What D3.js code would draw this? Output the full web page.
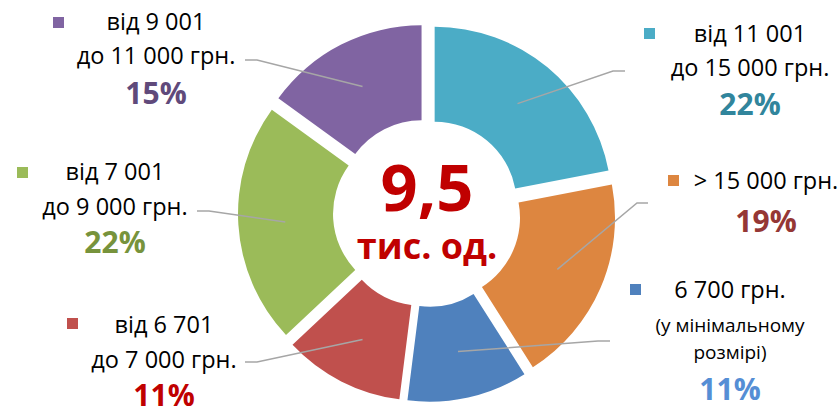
<!DOCTYPE html>
<html>
<head>
<meta charset="utf-8">
<script src="https://cdn.jsdelivr.net/npm/d3@7"></script>
<style>
  body { margin: 0; background: #fff; }
  svg { display: block; }
  text { font-family: "Open Sans", "DejaVu Sans", sans-serif; }
</style>
</head>
<body>
<svg id="svg"></svg>
<script>
// shares of the doughnut, clockwise from 12 o'clock
var categories = ["від 11 001 до 15 000 грн.", "> 15 000 грн.", "6 700 грн. (у мінімальному розмірі)",
                  "від 6 701 до 7 000 грн.", "від 7 001 до 9 000 грн.", "від 9 001 до 11 000 грн."];
var labelLines = [
    ["від 11 001", "до 15 000 грн."],
    ["> 15 000 грн."],
    ["6 700 грн.", "(у мінімальному", "розмірі)"],
    ["від 6 701", "до 7 000 грн."],
    ["від 7 001", "до 9 000 грн."],
    ["від 9 001", "до 11 000 грн."]
];
var shares = [22, 19, 11, 11, 22, 15];
var sliceColors = ["#4BACC6", "#DD8640", "#4F81BD", "#C0504D", "#9BBB59", "#8064A2"];
var pctColors = ["#31859C", "#953735", "#558ED5", "#C00000", "#77933C", "#604A7B"];
var totalValue = "9,5";
var totalUnit = "тис. од.";

var width = 840, height = 407;
var cx = 427, cy = 213;
var rIn = 82, rOut = 177, explode = 12;

// label blocks: centre x, first baseline, square x/y, percent baseline, leader elbow/end
var labelLayout = [
    {x: 750, y: 42,  sq: [644, 28],  pctY: 115, lineGap: 34, elbow: [613, 71],  end: [625, 71]},
    {x: 766, y: 189, sq: [668, 175], pctY: 232, lineGap: 34, elbow: [637, 203], end: [648, 203]},
    {x: 730, y: 298, sq: [630, 284], pctY: 400, lineGap: [34, 27], elbow: [598, 341], end: [610, 341]},
    {x: 164, y: 333, sq: [67, 318],  pctY: 406, lineGap: 35, elbow: [257, 362], end: [245, 362]},
    {x: 115, y: 180, sq: [17, 167],  pctY: 253, lineGap: 35, elbow: [209, 211], end: [197, 211]},
    {x: 156, y: 30,  sq: [53, 17],   pctY: 104, lineGap: 34, elbow: [257, 60],  end: [245, 60]}
];

var svg = d3.select("#svg")
        .attr("width", width)
        .attr("height", height);

var pie = d3.pie().sort(null).value(function(d) { return d; });
var arcs = pie(shares);

var arc = d3.arc().innerRadius(rIn).outerRadius(rOut);
var midArc = d3.arc().innerRadius(130).outerRadius(130);

function shift(d) {
    var a = (d.startAngle + d.endAngle) / 2;
    return [Math.sin(a) * explode, -Math.cos(a) * explode];
}

var g = svg.append("g").attr("transform", "translate(" + cx + "," + cy + ")");

g.selectAll("path.slice")
    .data(arcs)
    .enter()
    .append("path")
    .attr("class", "slice")
    .attr("d", arc)
    .attr("fill", function(d, i) { return sliceColors[i]; })
    .attr("transform", function(d) {
        var s = shift(d);
        return "translate(" + s[0] + "," + s[1] + ")";
    });

// leader lines
svg.selectAll("polyline.leader")
    .data(arcs)
    .enter()
    .append("polyline")
    .attr("class", "leader")
    .attr("fill", "none")
    .attr("stroke", "#A6A6A6")
    .attr("stroke-width", 1.5)
    .attr("points", function(d, i) {
        var c = midArc.centroid(d), s = shift(d);
        var L = labelLayout[i];
        var p0 = [cx + c[0] + s[0], cy + c[1] + s[1]];
        return [p0, L.elbow, L.end].map(function(p) { return p.join(","); }).join(" ");
    });

// labels
labelLines.forEach(function(lines, i) {
    var L = labelLayout[i];
    svg.append("rect")
        .attr("x", L.sq[0]).attr("y", L.sq[1])
        .attr("width", 11).attr("height", 11)
        .attr("fill", sliceColors[i]);
    var y = L.y;
    lines.forEach(function(t, j) {
        if (j > 0) {
            y += Array.isArray(L.lineGap) ? L.lineGap[j - 1] : L.lineGap;
        }
        svg.append("text")
            .attr("x", L.x).attr("y", y)
            .attr("text-anchor", "middle")
            .attr("font-size", (i === 2 && j > 0) ? 19 : 23.5)
            .attr("fill", "#000")
            .text(t);
    });
    svg.append("text")
        .attr("x", L.x).attr("y", L.pctY)
        .attr("text-anchor", "middle")
        .attr("font-size", 30)
        .attr("font-weight", "bold")
        .attr("fill", pctColors[i])
        .text(shares[i] + "%");
});

// centre total
svg.append("text")
    .attr("x", cx).attr("y", 211)
    .attr("text-anchor", "middle")
    .attr("font-size", 65)
    .attr("font-weight", "bold")
    .attr("fill", "#C00000")
    .text(totalValue);
svg.append("text")
    .attr("x", cx).attr("y", 259)
    .attr("text-anchor", "middle")
    .attr("font-size", 36)
    .attr("font-weight", "bold")
    .attr("fill", "#C00000")
    .text(totalUnit);
</script>
</body>
</html>
